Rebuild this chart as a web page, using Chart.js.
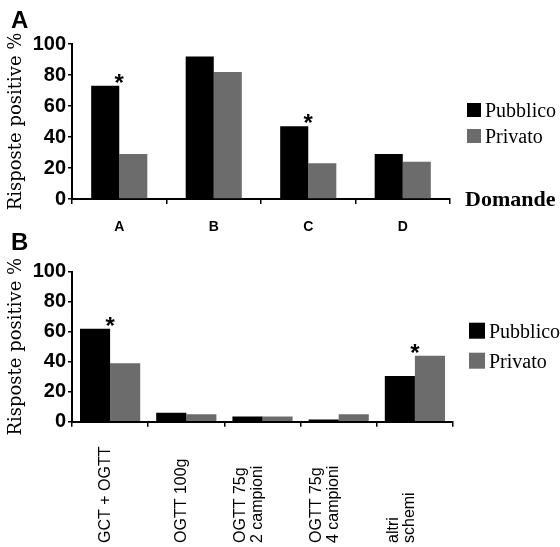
<!DOCTYPE html>
<html><head><meta charset="utf-8">
<script src="https://cdn.jsdelivr.net/npm/chart.js@4.4.1/dist/chart.umd.min.js"></script>
<style>
html,body{margin:0;padding:0;background:#fff;}
#wrap{position:relative;width:560px;height:547px;overflow:hidden;background:#fff;}
canvas{position:absolute;left:0;}
#c1{top:0;}
#c2{top:225px;}
</style></head><body>
<div id="wrap"><canvas id="c1" width="560" height="250"></canvas><canvas id="c2" width="560" height="322"></canvas></div>
<script>
// ---- data ----
const seriesNames = ['Pubblico', 'Privato'];
const domande = ['A', 'B', 'C', 'D'];
const pubblicoA = [73, 92, 47, 29];
const privatoA = [29, 82, 23, 24];
const starsA = [true, false, true, false];
const schemi = [['GCT + OGTT'], ['OGTT 100g'], ['OGTT 75g', '2 campioni'], ['OGTT 75g', '4 campioni'], ['altri', 'schemi']];
const pubblicoB = [62, 6, 3.5, 1.5, 30.5];
const privatoB = [39, 5, 3.5, 5, 44];
const starsB = [true, false, false, false, true];
const yMin = 0, yMax = 100, yStep = 20;
const yTitle = 'Risposte positive %';
const xTitleA = 'Domande';
const panelA = 'A', panelB = 'B';

const BLACK = '#000000', GRAY = '#6c6c6c';

const decor = {
  id: 'decor',
  afterDatasetsDraw(chart, args, o) {
    const ctx = chart.ctx, x = chart.scales.x, y = chart.scales.y;
    ctx.save();
    ctx.fillStyle = '#000';
    ctx.textBaseline = 'alphabetic';
    ctx.textAlign = 'left';
    ctx.font = 'bold 24px "Liberation Sans", Arial, sans-serif';
    ctx.fillText(o.letter, o.letterX, o.letterY);
    // asterisks
    ctx.font = 'bold 24px "Liberation Sans", Arial, sans-serif';
    ctx.textAlign = 'center';
    o.stars.forEach((s, i) => {
      if (!s) return;
      const v = Math.max(...chart.data.datasets.map(d => d.data[i]));
      ctx.fillText('*', x.getPixelForValue(i), y.getPixelForValue(v) + 5);
    });
    // legend
    ctx.textAlign = 'left';
    ctx.font = '20px "Liberation Serif", "Times New Roman", serif';
    chart.data.datasets.forEach((d, i) => {
      const top = o.legY + i * o.legGap;
      ctx.fillStyle = d.backgroundColor;
      ctx.fillRect(o.legX, top, o.box, o.box);
      ctx.fillStyle = '#000';
      ctx.fillText(d.label, o.legX + o.box + 4, top + o.box - 0.5);
    });
    // x title
    if (o.xTitle) {
      ctx.font = 'bold 22px "Liberation Serif", "Times New Roman", serif';
      ctx.fillText(o.xTitle, x.right + 15, x.top + 7);
    }
    // rotated category labels
    if (o.rotLabels) {
      ctx.font = '16px "Liberation Sans", Arial, sans-serif';
      ctx.textBaseline = 'middle';
      ctx.textAlign = 'left';
      o.rotLabels.forEach((lines, i) => {
        const cx = x.getPixelForValue(i);
        const n = lines.length;
        lines.forEach((t, j) => {
          ctx.save();
          ctx.translate(cx - 5 - (n - 1 - j) * 16.7, o.rotY);
          ctx.rotate(-Math.PI / 2);
          ctx.fillText(t, 0, 0);
          ctx.restore();
        });
      });
    }
    ctx.restore();
  }
};

function makeChart(id, labels, d1, d2, catPct, pad, xHeight, xTicks, decorOpts) {
  return new Chart(document.getElementById(id), {
    type: 'bar',
    data: {
      labels: labels,
      datasets: [
        { label: seriesNames[0], data: d1, backgroundColor: BLACK, borderWidth: 0, categoryPercentage: catPct, barPercentage: 1 },
        { label: seriesNames[1], data: d2, backgroundColor: GRAY, borderWidth: 0, categoryPercentage: catPct, barPercentage: 1 }
      ]
    },
    options: {
      responsive: false,
      animation: false,
      devicePixelRatio: 1,
      layout: { padding: pad },
      plugins: { legend: { display: false }, tooltip: { enabled: false }, decor: decorOpts },
      scales: {
        x: {
          grid: { offset: true, drawOnChartArea: false, tickLength: 5, color: '#000', lineWidth: 1.5 },
          border: { color: '#000', width: 2 },
          ticks: xTicks,
          afterFit(s) { s.height = xHeight; }
        },
        y: {
          min: yMin, max: yMax,
          ticks: { stepSize: yStep, color: '#000', padding: 2, font: { family: '"Liberation Sans", Arial, sans-serif', size: 20, weight: 'bold' } },
          grid: { drawOnChartArea: false, tickLength: 4, color: '#000', lineWidth: 1.5 },
          border: { color: '#000', width: 2 },
          title: { display: true, text: yTitle, color: '#000', font: { family: '"DejaVu Serif", serif', size: 18 }, padding: { top: 6, bottom: 0 } },
          afterFit(s) { s.width = 72; }
        }
      }
    },
    plugins: [decor]
  });
}

makeChart('c1', domande, pubblicoA, privatoA, 0.594,
  { top: 44, right: 110, left: 0, bottom: 0 }, 51,
  { color: '#000', padding: 15, maxRotation: 0, font: { family: '"Liberation Sans", Arial, sans-serif', size: 14, weight: 'bold' } },
  { letter: panelA, letterX: 11, letterY: 28, stars: starsA, legX: 467, legY: 103, legGap: 26, box: 14, xTitle: xTitleA });

makeChart('c2', schemi, pubblicoB, privatoB, 0.79,
  { top: 46.7, right: 107, left: 0, bottom: 0 }, 125.3,
  { display: false },
  { letter: panelB, letterX: 11, letterY: 25, stars: starsB, legX: 469, legY: 97.7, legGap: 30, box: 16, rotLabels: schemi, rotY: 318 });
</script>
</body></html>
